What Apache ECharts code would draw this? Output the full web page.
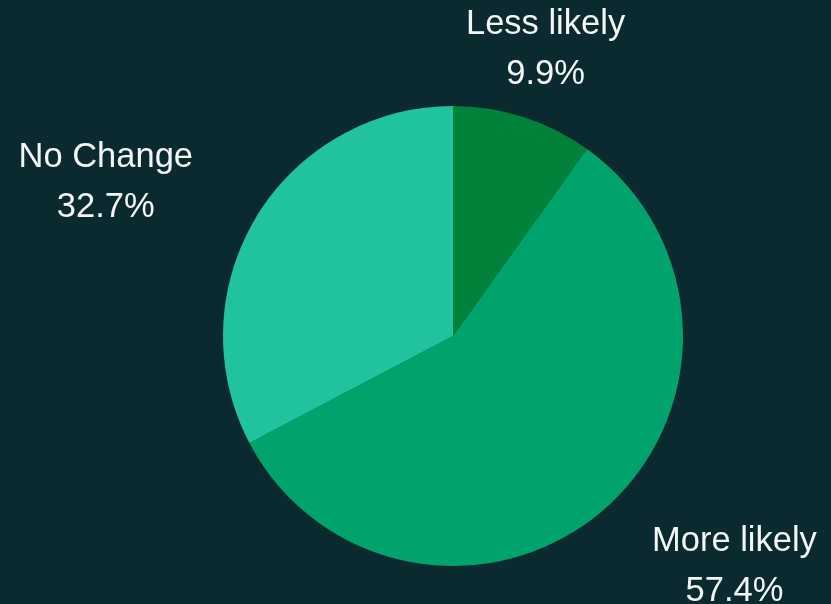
<!DOCTYPE html>
<html>
<head>
<meta charset="utf-8">
<script src="https://cdn.jsdelivr.net/npm/echarts@6/dist/echarts.min.js"></script>
<style>
html,body{margin:0;padding:0;background:#0b2a30;}
#main{width:831px;height:604px;}
</style>
</head>
<body>
<div id="main"></div>
<script>
const categories = ['Less likely', 'More likely', 'No Change'];
const values = [9.9, 57.4, 32.7];
const colors = ['#00823a', '#00a36b', '#20c39d'];

const chart = echarts.init(document.getElementById('main'), null, {renderer: 'canvas'});

const labelSpots = [
  {x: 466, y: 49, align: 'left'},
  {x: 652, y: 566, align: 'left'},
  {x: 193, y: 182, align: 'right'}
];

chart.setOption({
  backgroundColor: '#0b2a30',
  animation: false,
  series: [{
    type: 'pie',
    center: [453, 336],
    radius: [0, 230],
    startAngle: 90,
    clockwise: true,
    silent: true,
    data: categories.map((c, i) => ({name: c, value: values[i], itemStyle: {color: colors[i]}})),
    label: {
      show: true,
      position: 'outside',
      formatter: '{a|{b}}\n{a|{d}%}',
      color: '#f4f6f6',
      fontFamily: 'Liberation Sans, Arial, sans-serif',
      fontSize: 34.5,
      lineHeight: 50,
      rich: {
        a: {align: 'center', color: '#f4f6f6', fontFamily: 'Liberation Sans, Arial, sans-serif', fontSize: 34.5, lineHeight: 50}
      }
    },
    labelLine: {show: false},
    labelLayout: function (params) {
      const s = labelSpots[params.dataIndex];
      return {x: s.x, y: s.y, align: s.align, verticalAlign: 'middle'};
    }
  }]
});
</script>
</body>
</html>
